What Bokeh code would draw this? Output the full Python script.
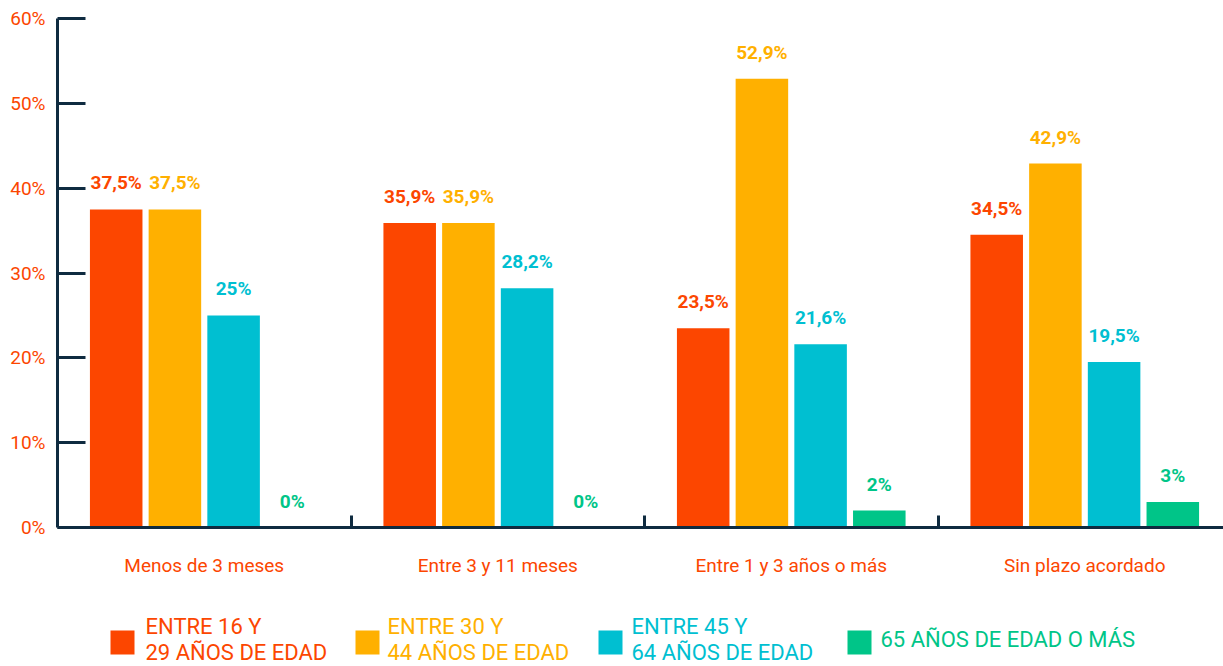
from bokeh.plotting import figure
from bokeh.models import Range1d, FixedTicker, PrintfTickFormatter, ColumnDataSource, LabelSet
from bokeh.layouts import column
from bokeh.core.properties import value
from bokeh.embed import file_html
from bokeh.resources import INLINE

categories = ["Menos de 3 meses", "Entre 3 y 11 meses", "Entre 1 y 3 años o más", "Sin plazo acordado"]
series_labels = ["ENTRE 16 Y\n29 AÑOS DE EDAD", "ENTRE 30 Y\n44 AÑOS DE EDAD",
                 "ENTRE 45 Y\n64 AÑOS DE EDAD", "65 AÑOS DE EDAD O MÁS"]
age_16_29 = [37.5, 35.9, 23.5, 34.5]
age_30_44 = [37.5, 35.9, 52.9, 42.9]
age_45_64 = [25, 28.2, 21.6, 19.5]
age_65_plus = [0, 0, 2, 3]
y_ticks = [0, 10, 20, 30, 40, 50, 60]

series = [age_16_29, age_30_44, age_45_64, age_65_plus]
colors = ["#FC4600", "#FFB000", "#00BFD1", "#00C588"]
AXIS = "#0F2B40"
FONT = "Roboto"
offsets = [-0.3, -0.1, 0.1, 0.3]
BAR_W = 0.179


def fmt(v):
    s = ("%.1f" % v).rstrip("0").rstrip(".")
    return s.replace(".", ",") + "%"


p = figure(width=1223, height=603, x_range=Range1d(0, 1166 / 293.5), y_range=Range1d(0, 60),
           output_backend="svg", toolbar_location=None,
           min_border_left=57, min_border_top=18, min_border_right=0, min_border_bottom=76)
p.outline_line_color = None
p.xgrid.visible = False
p.ygrid.visible = False
p.background_fill_color = "white"
p.border_fill_color = "white"

for vals, off, col in zip(series, offsets, colors):
    xs = [i + 0.5 + off for i in range(len(categories))]
    src = ColumnDataSource(dict(x=xs, top=vals, label=[fmt(v) for v in vals]))
    p.vbar(x="x", top="top", width=BAR_W, source=src, fill_color=col, line_color=None)
    p.add_layout(LabelSet(x="x", y="top", text="label", source=src, y_offset=15,
                          text_align="center", text_baseline="bottom",
                          text_font=value(FONT), text_font_style="bold",
                          text_font_size="19px", text_color=col))

# y axis
ya = p.yaxis[0]
ya.ticker = FixedTicker(ticks=y_ticks, minor_ticks=[])
ya.formatter = PrintfTickFormatter(format="%d%%")
ya.axis_line_color = AXIS
ya.axis_line_width = 3
ya.major_tick_line_color = AXIS
ya.major_tick_line_width = 3
ya.major_tick_in = 28
ya.major_tick_out = 0
ya.minor_tick_line_color = None
ya.major_label_standoff = 12
ya.major_label_text_font = FONT
ya.major_label_text_font_size = "19px"
ya.major_label_text_color = colors[0]

# x axis
xa = p.xaxis[0]
xa.ticker = FixedTicker(ticks=[i + 0.5 for i in range(len(categories))],
                        minor_ticks=[i for i in range(1, len(categories))])
xa.major_label_overrides = {i + 0.5: c for i, c in enumerate(categories)}
xa.axis_line_color = AXIS
xa.axis_line_width = 3
xa.major_tick_line_color = None
xa.major_tick_in = 0
xa.major_tick_out = 0
xa.minor_tick_line_color = AXIS
xa.minor_tick_line_width = 3
xa.minor_tick_in = 12
xa.minor_tick_out = 0
xa.major_label_standoff = 26
xa.major_label_text_font = FONT
xa.major_label_text_font_size = "19px"
xa.major_label_text_color = colors[0]

# legend strip (its frame is aligned with the main frame: x from 57 to 1223)
lg = figure(width=1223, height=63, x_range=Range1d(57, 1223), y_range=Range1d(63, 0),
            output_backend="svg", toolbar_location=None,
            min_border_left=57, min_border_top=0, min_border_right=0, min_border_bottom=0)
lg.axis.visible = False
lg.xgrid.visible = False
lg.ygrid.visible = False
lg.outline_line_color = None
sq_x = [122, 367, 610, 859]
tx_x = [145, 387, 631, 880]
lg.rect(x=sq_x, y=[39] * 4, width=24, height=24, fill_color=colors, line_color=None)
lg.text(x=tx_x, y=[36] * 4, text=series_labels, text_align="left", text_baseline="middle",
        text_font=value(FONT), text_font_size="22px", text_color=colors, text_line_height=1.05)

layout = column(p, lg, spacing=0)
open("out.html", "w").write(file_html(layout, INLINE))
